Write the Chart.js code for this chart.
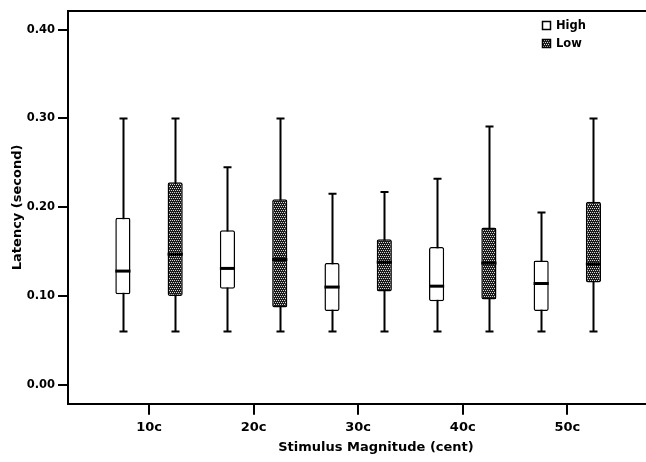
<!DOCTYPE html>
<html lang="en">
<head>
<meta charset="UTF-8" />
<title>Latency by stimulus magnitude</title>
<script src="https://cdn.jsdelivr.net/npm/chart.js"></script>
<style>
html, body { margin: 0; padding: 0; background: #fff; overflow: hidden; }
#wrap { width: 684px; height: 462px; position: relative; }
</style>
</head>
<body>
<div id="wrap"><canvas id="box"></canvas></div>

<script>
// stimulus magnitudes on the x axis
const categories = ['10c', '20c', '30c', '40c', '50c'];
const yTicks = [0, 0.1, 0.2, 0.3, 0.4];

// five-number summaries, latency in seconds
const highMin = [0.060, 0.060, 0.060, 0.060, 0.060];
const highQ1  = [0.102, 0.108, 0.083, 0.094, 0.083];
const highMed = [0.128, 0.131, 0.110, 0.111, 0.114];
const highQ3  = [0.188, 0.174, 0.137, 0.155, 0.140];
const highMax = [0.300, 0.245, 0.215, 0.232, 0.194];

const lowMin = [0.060, 0.060, 0.060, 0.060, 0.060];
const lowQ1  = [0.100, 0.087, 0.105, 0.096, 0.115];
const lowMed = [0.147, 0.141, 0.138, 0.137, 0.136];
const lowQ3  = [0.228, 0.209, 0.164, 0.177, 0.206];
const lowMax = [0.300, 0.300, 0.217, 0.291, 0.300];

Chart.defaults.font.family = '"DejaVu Sans", Verdana, sans-serif';
Chart.defaults.font.weight = 'bold';
Chart.defaults.color = '#000';

// dotted fill for the Low boxes
function dots() {
  const c = document.createElement('canvas');
  c.width = 4; c.height = 4;
  const g = c.getContext('2d');
  g.fillStyle = '#1a1a1a'; g.fillRect(0, 0, 4, 4);
  g.fillStyle = '#d8d8d8';
  g.fillRect(0, 0, 1, 1); g.fillRect(2, 0, 1, 1);
  g.fillRect(1, 2, 1, 1); g.fillRect(3, 2, 1, 1);
  return g.createPattern(c, 'repeat');
}
const lowFill = dots();

const stats = [
  { min: highMin, med: highMed, max: highMax },
  { min: lowMin, med: lowMed, max: lowMax }
];

// whiskers + caps under the boxes, medians over them
const boxplot = {
  id: 'boxplot',
  beforeDatasetsDraw(chart) {
    const ctx = chart.ctx, y = chart.scales.y;
    ctx.save();
    ctx.strokeStyle = '#000';
    ctx.lineWidth = 2;
    stats.forEach((s, di) => {
      chart.getDatasetMeta(di).data.forEach((bar, i) => {
        const x = Math.round(bar.x) + 0.5;
        const lo = y.getPixelForValue(s.min[i]), hi = y.getPixelForValue(s.max[i]);
        ctx.beginPath();
        ctx.moveTo(x, lo); ctx.lineTo(x, hi);
        ctx.moveTo(x - 4, lo); ctx.lineTo(x + 4, lo);
        ctx.moveTo(x - 4, hi); ctx.lineTo(x + 4, hi);
        ctx.stroke();
      });
    });
    ctx.restore();
  },
  afterDatasetsDraw(chart) {
    const ctx = chart.ctx, y = chart.scales.y;
    ctx.save();
    ctx.strokeStyle = '#000';
    ctx.lineWidth = 3;
    stats.forEach((s, di) => {
      chart.getDatasetMeta(di).data.forEach((bar, i) => {
        const m = y.getPixelForValue(s.med[i]);
        ctx.beginPath();
        ctx.moveTo(bar.x - bar.width / 2, m); ctx.lineTo(bar.x + bar.width / 2, m);
        ctx.stroke();
      });
    });
    // top frame line
    const a = chart.chartArea;
    ctx.lineWidth = 2;
    ctx.beginPath();
    ctx.moveTo(a.left - 1, a.top); ctx.lineTo(a.right, a.top);
    ctx.stroke();
    ctx.restore();
  },
  afterDraw(chart) {
    // legend, top right inside the plot
    const ctx = chart.ctx;
    ctx.save();
    ctx.font = 'bold 11.5px "DejaVu Sans", Verdana, sans-serif';
    ctx.textBaseline = 'middle';
    chart.data.datasets.forEach((ds, i) => {
      const top = 21 + i * 18;
      ctx.fillStyle = ds.backgroundColor;
      ctx.fillRect(542, top, 9, 9);
      ctx.strokeStyle = '#000';
      ctx.lineWidth = 1.5;
      ctx.strokeRect(542.5, top + 0.5, 8, 8);
      ctx.fillStyle = '#000';
      ctx.fillText(ds.label, 556, top + 5);
    });
    ctx.restore();
  }
};

const boxStyle = {
  borderColor: '#000',
  borderWidth: 1.5,
  borderSkipped: false,
  borderRadius: 2,
  categoryPercentage: 1.0,
  barPercentage: 0.29
};

new Chart(document.getElementById('box'), {
  type: 'bar',
  data: {
    datasets: [
      Object.assign({ label: 'High', backgroundColor: '#fff',
        data: categories.map((c, i) => ({ x: i, y: [highQ1[i], highQ3[i]] })) }, boxStyle),
      Object.assign({ label: 'Low', backgroundColor: lowFill,
        data: categories.map((c, i) => ({ x: i, y: [lowQ1[i], lowQ3[i]] })) }, boxStyle)
    ]
  },
  options: {
    responsive: true,
    maintainAspectRatio: false,
    animation: false,
    layout: { padding: { top: 11, right: 0, left: 0, bottom: 0 } },
    plugins: { legend: { display: false }, tooltip: { enabled: false } },
    scales: {
      x: {
        type: 'linear',
        offset: false,
        min: -0.775,
        max: 5.116,
        afterBuildTicks: s => { s.ticks = categories.map((c, i) => ({ value: i })); },
        afterFit: s => { s.height = 58.3; },
        ticks: { callback: v => categories[v], font: { size: 13 }, padding: 5, maxRotation: 0 },
        grid: { offset: false, drawOnChartArea: false, drawTicks: true, tickLength: 11, color: '#000', lineWidth: 2 },
        border: { color: '#000', width: 2 },
        title: { display: true, text: 'Stimulus Magnitude (cent)', font: { size: 13 }, padding: { top: 0, bottom: 7 } }
      },
      y: {
        min: -0.0214,
        max: 0.421,
        afterBuildTicks: s => { s.ticks = yTicks.map(v => ({ value: v })); },
        afterFit: s => { s.width = 68; },
        ticks: { callback: v => v.toFixed(2), font: { size: 11.5 }, padding: 3 },
        grid: { drawOnChartArea: false, drawTicks: true, tickLength: 10, color: '#000', lineWidth: 2 },
        border: { color: '#000', width: 2 },
        title: { display: true, text: 'Latency (second)', font: { size: 13 }, padding: { top: 10, bottom: 0 } }
      }
    }
  },
  plugins: [boxplot]
});
</script>
</body>
</html>
